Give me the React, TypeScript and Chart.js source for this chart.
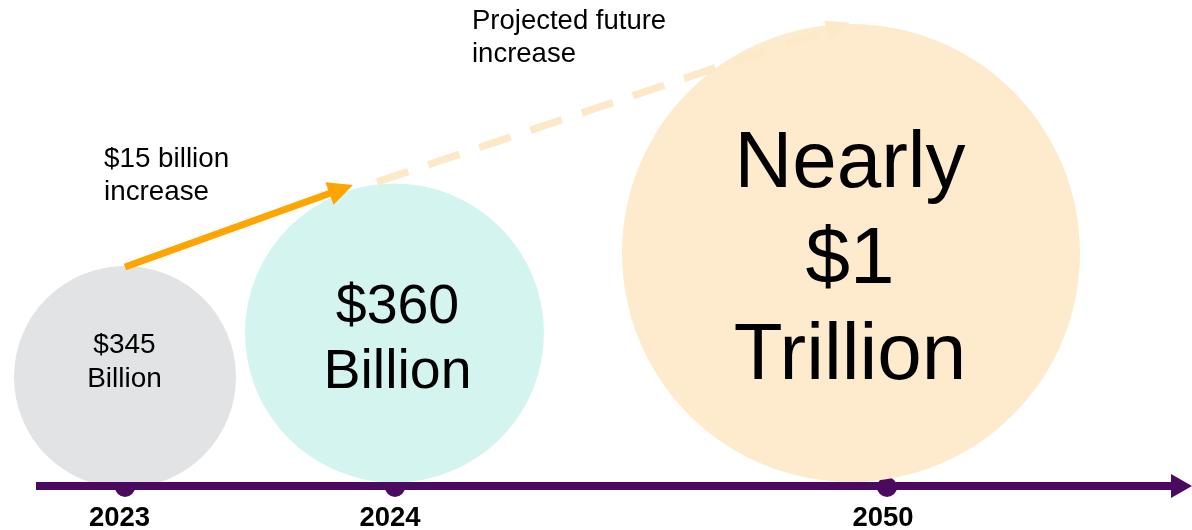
import React, { useEffect, useRef } from "react";
import { Chart, registerables } from "chart.js";

Chart.register(...registerables);

// ---------- DATA ----------
const years: string[] = ["2023", "2024", "2050"];
const marketSizeBillion: number[] = [345, 360, 1000];
const bubbleLabelLines: string[][] = [
  ["$345", "Billion"],
  ["$360", "Billion"],
  ["Nearly", "$1", "Trillion"],
];
const increaseLabels: string[][] = [
  ["$15 billion", "increase"],
  ["Projected future", "increase"],
];

// ---------- LAYOUT / STYLE (layout units == canvas px) ----------
const W = 1192;
const H = 530;
const TIMELINE_Y = 486;
const TIMELINE_START = 36;
const TIMELINE_END = 1172;
const yearTickX = [125, 395, 887];
const yearLabelX = [119.5, 390, 883];
const YEAR_BASELINE = 526;
const bubbleGeom = [
  { x: 125, y: 377, r: 111 },
  { x: 394.5, y: 333, r: 149.5 },
  { x: 851, y: 253, r: 229 },
];
const bubbleColors = ["#E2E3E5", "#D4F5EF", "#FEEBCE"];
const bubbleText = [
  { x: 124.5, baselines: [353, 386.5], size: 28 },
  { x: 397.5, baselines: [323, 388], size: 55.5 },
  { x: 850, baselines: [186.5, 283, 378.5], size: 80 },
];
const annotationText = [
  { x: 104, baselines: [167, 200], size: 27.8 },
  { x: 472, baselines: [29, 62], size: 27.5 },
];
const PURPLE = "#4B0A5F";
const ORANGE = "#FFA500";
const DASH_COLOR = "#FDE8C8";
const FONT = "'Liberation Sans', Arial, sans-serif";

export default function App() {
  const canvasRef = useRef<HTMLCanvasElement | null>(null);

  useEffect(() => {
    const canvas = canvasRef.current;
    if (!canvas) return;

    const overlay = {
      id: "timelineOverlay",
      beforeDatasetsDraw(chart: any) {
        const { ctx } = chart;
        const xs = chart.scales.x;
        const ys = chart.scales.y;
        ctx.save();
        ctx.fillStyle = PURPLE;
        yearTickX.forEach((tx) => {
          ctx.beginPath();
          ctx.arc(xs.getPixelForValue(tx), ys.getPixelForValue(TIMELINE_Y + 1), 10, 0, Math.PI * 2);
          ctx.fill();
        });
        ctx.restore();
      },
      afterDatasetsDraw(chart: any) {
        const { ctx } = chart;
        const xs = chart.scales.x;
        const ys = chart.scales.y;
        const px = (v: number) => xs.getPixelForValue(v);
        const py = (v: number) => ys.getPixelForValue(v);
        ctx.save();

        // timeline
        ctx.strokeStyle = PURPLE;
        ctx.lineWidth = 8;
        ctx.lineCap = "butt";
        ctx.beginPath();
        ctx.moveTo(px(TIMELINE_START), py(TIMELINE_Y));
        ctx.lineTo(px(TIMELINE_END), py(TIMELINE_Y));
        ctx.stroke();
        ctx.fillStyle = PURPLE;
        ctx.beginPath();
        ctx.moveTo(px(TIMELINE_END - 1), py(TIMELINE_Y - 12));
        ctx.lineTo(px(W), py(TIMELINE_Y));
        ctx.lineTo(px(TIMELINE_END - 1), py(TIMELINE_Y + 12));
        ctx.closePath();
        ctx.fill();

        // helper arrow
        const arrow = (
          x0: number, y0: number, x1: number, y1: number,
          color: string, width: number, headLen: number, headHalf: number, dash: number[]
        ) => {
          const dx = x1 - x0, dy = y1 - y0;
          const len = Math.hypot(dx, dy);
          const ux = dx / len, uy = dy / len;
          const bx = x1 - ux * headLen, by = y1 - uy * headLen;
          ctx.strokeStyle = color;
          ctx.lineWidth = width;
          ctx.setLineDash(dash);
          ctx.beginPath();
          ctx.moveTo(px(x0), py(y0));
          ctx.lineTo(px(bx + ux * 2), py(by + uy * 2));
          ctx.stroke();
          ctx.setLineDash([]);
          ctx.fillStyle = color;
          ctx.beginPath();
          ctx.moveTo(px(x1), py(y1));
          ctx.lineTo(px(bx - uy * headHalf), py(by + ux * headHalf));
          ctx.lineTo(px(bx + uy * headHalf), py(by - ux * headHalf));
          ctx.closePath();
          ctx.fill();
        };

        // projected dashed arrow
        arrow(377, 182, 850, 22.5, DASH_COLOR, 7.5, 24, 10, [33, 21]);
        // $15 billion arrow
        arrow(125, 267, 353, 185, ORANGE, 7, 25, 12, []);

        // text
        ctx.fillStyle = "#000000";
        ctx.textBaseline = "alphabetic";
        ctx.textAlign = "center";
        bubbleText.forEach((bt, i) => {
          ctx.font = `${bt.size}px ${FONT}`;
          bubbleLabelLines[i].forEach((line, j) => {
            ctx.fillText(line, px(bt.x), py(bt.baselines[j]));
          });
        });
        ctx.textAlign = "left";
        annotationText.forEach((at, i) => {
          ctx.font = `${at.size}px ${FONT}`;
          increaseLabels[i].forEach((line, j) => {
            ctx.fillText(line, px(at.x), py(at.baselines[j]));
          });
        });
        ctx.textAlign = "center";
        ctx.font = `bold 27.5px ${FONT}`;
        years.forEach((yr, i) => {
          ctx.fillText(yr, px(yearLabelX[i]), py(YEAR_BASELINE));
        });
        ctx.restore();
      },
    };

    const chart = new Chart(canvas, {
      type: "bubble",
      data: {
        datasets: [
          {
            label: "Market size (billion USD)",
            data: marketSizeBillion.map((v, i) => ({
              x: bubbleGeom[i].x,
              y: bubbleGeom[i].y,
              r: bubbleGeom[i].r,
              value: v,
            })) as any,
            backgroundColor: bubbleColors,
            borderWidth: 0,
            hoverRadius: 0,
            clip: false as any,
          },
        ],
      },
      options: {
        responsive: false,
        animation: false,
        events: [],
        layout: { padding: 0, autoPadding: false },
        plugins: { legend: { display: false }, tooltip: { enabled: false } },
        scales: {
          x: { type: "linear", min: 0, max: W, display: false },
          y: { type: "linear", min: 0, max: H, reverse: true, display: false },
        },
      },
      plugins: [overlay],
    });

    return () => chart.destroy();
  }, []);

  return (
    <div style={{ position: "fixed", left: 0, top: 0, width: W, height: H, background: "#fff" }}>
      <canvas ref={canvasRef} width={W} height={H} style={{ display: "block" }} />
    </div>
  );
}
